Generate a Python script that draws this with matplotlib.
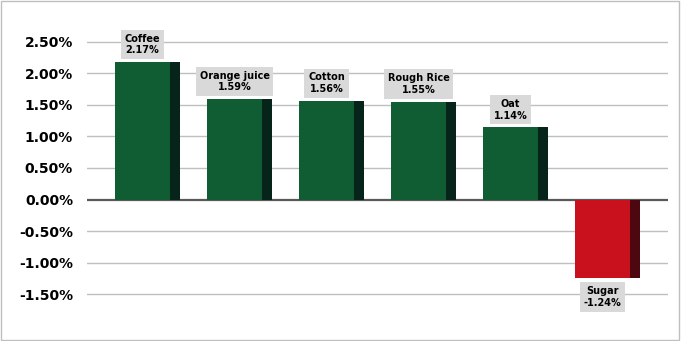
import matplotlib.pyplot as plt
import matplotlib.patches as mpatches
import numpy as np

# data
categories = ['Coffee', 'Orange juice', 'Cotton', 'Rough Rice', 'Oat', 'Sugar']
changes = [2.17, 1.59, 1.56, 1.55, 1.14, -1.24]
yticks = [-1.5, -1.0, -0.5, 0.0, 0.5, 1.0, 1.5, 2.0, 2.5]

green_face, green_side = '#105C33', '#07241A'
red_face, red_side = '#C8111C', '#4C0710'

fig = plt.figure(figsize=(6.81, 3.41), dpi=100)
ax = fig.add_axes([87 / 681, 1 - 329 / 341, (668 - 87) / 681, 319 / 341])

x = np.arange(len(categories))
face_cols = [green_face if v >= 0 else red_face for v in changes]
side_cols = [green_side if v >= 0 else red_side for v in changes]

# front face + dark side strip for a fake 3d look
ax.bar(x - 0.054, changes, width=0.598, color=face_cols, zorder=3)
ax.bar(x + 0.299, changes, width=0.108, color=side_cols, zorder=3)

for xi, v, name in zip(x, changes, categories):
    off = 5 if v >= 0 else -6
    ax.annotate(f'{name}\n{v:.2f}%', (xi - 0.054, v), xytext=(0, off),
                textcoords='offset points', ha='center',
                va='bottom' if v >= 0 else 'top',
                fontsize=7, fontweight='bold', linespacing=1.2,
                bbox=dict(boxstyle='square,pad=0.4', fc='#D9D9D9', ec='none'),
                zorder=4)

ax.set_xlim(-0.658, len(categories) - 1 + 0.658)
ax.set_ylim(-2.05, 3.0)
ax.set_yticks(yticks)
ax.set_yticklabels([f'{t:.2f}%' for t in yticks], fontsize=10, fontweight='bold')
ax.set_xticks([])
ax.tick_params(axis='y', length=0, pad=10)
for t in yticks:
    ax.axhline(t, color='#595959' if t == 0 else '#BFBFBF',
               lw=1.6 if t == 0 else 1.0, zorder=1)
for s in ax.spines.values():
    s.set_visible(False)

fig.patches.append(mpatches.Rectangle((0.001, 0.003), 0.996, 0.994, transform=fig.transFigure,
                                      fill=False, ec='#BFBFBF', lw=1))

fig.savefig('out.png', dpi=100)
